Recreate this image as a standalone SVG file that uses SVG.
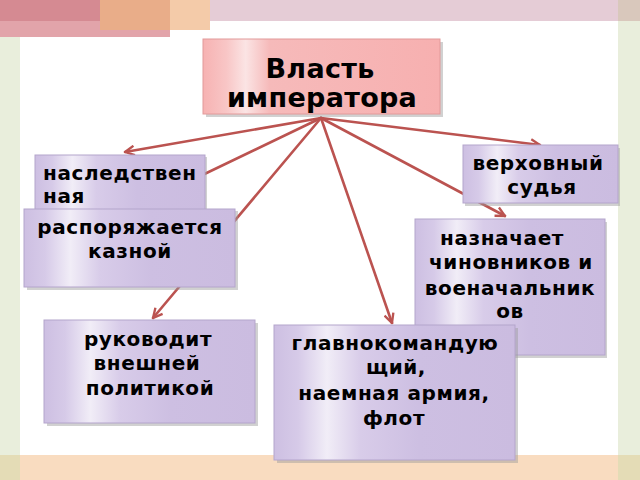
<svg xmlns="http://www.w3.org/2000/svg" width="640" height="480" viewBox="0 0 640 480">
<defs>
<style>
.t{font-family:"DejaVu Sans","Verdana",sans-serif;font-weight:bold;font-size:20px;letter-spacing:0.6px;fill:#000;}
.big{font-size:27px;letter-spacing:0.3px;}
.lav{fill:url(#gLav);stroke:#b4a5cc;stroke-width:1;}
.pink{fill:url(#gPink);stroke:#e29a9a;stroke-width:1;}
.sh{fill:#9a9a9a;opacity:0.45;}
.c{stroke:#bb5350;stroke-width:2.6;fill:none;stroke-linecap:round;}
</style>
<linearGradient id="gLav" x1="0" y1="0" x2="1" y2="0">
<stop offset="0" stop-color="#cdbfe2"/>
<stop offset="0.1" stop-color="#d6cae8"/>
<stop offset="0.22" stop-color="#f1edf7"/>
<stop offset="0.36" stop-color="#d8cce9"/>
<stop offset="0.6" stop-color="#cdbfe2"/>
<stop offset="1" stop-color="#cbbce0"/>
</linearGradient>
<linearGradient id="gPink" x1="0" y1="0" x2="1" y2="0">
<stop offset="0" stop-color="#f7b2b2"/>
<stop offset="0.1" stop-color="#f8c6c6"/>
<stop offset="0.18" stop-color="#fbe4e4"/>
<stop offset="0.28" stop-color="#f6baba"/>
<stop offset="1" stop-color="#f7b0b0"/>
</linearGradient>
<marker id="arr" viewBox="0 0 10 10" refX="9" refY="5" markerWidth="4.5" markerHeight="4.5" orient="auto" markerUnits="strokeWidth">
<path d="M1,1 L9,5 L1,9" fill="none" stroke="#bb5350" stroke-width="2"/>
</marker>
</defs>

<g id="background">
<rect x="0" y="0" width="640" height="480" fill="#ffffff"/>
<rect x="0" y="0" width="20" height="480" fill="#e9eedc"/>
<rect x="618" y="0" width="22" height="480" fill="#e9eedc"/>
<rect x="210" y="0" width="408" height="21" fill="#e5ccd6"/>
<rect x="618" y="0" width="22" height="21" fill="#d9c8bc"/>
<rect x="0" y="0" width="170" height="37" fill="#e2a4aa"/>
<rect x="0" y="0" width="100" height="21" fill="#d58a92"/>
<rect x="100" y="0" width="70" height="30" fill="#e9ad89"/>
<rect x="170" y="0" width="40" height="30" fill="#f4cba9"/>
<rect x="20" y="455" width="598" height="25" fill="#f9dcc0"/>
<rect x="0" y="455" width="20" height="25" fill="#e4dcb6"/>
<rect x="618" y="455" width="22" height="25" fill="#e4dcb6"/>
</g>

<g id="connectors">
<line class="c" x1="321" y1="118" x2="125" y2="152" marker-end="url(#arr)"/>
<line class="c" x1="321" y1="118" x2="140" y2="205"/>
<line class="c" x1="321" y1="118" x2="153" y2="318" marker-end="url(#arr)"/>
<line class="c" x1="321" y1="118" x2="392" y2="323" marker-end="url(#arr)"/>
<line class="c" x1="321" y1="118" x2="505" y2="216" marker-end="url(#arr)"/>
<line class="c" x1="321" y1="118" x2="540" y2="145" marker-end="url(#arr)"/>
</g>

<g id="node-power">
<rect class="sh" x="206" y="42" width="237" height="75"/>
<rect class="pink" x="203" y="39" width="237" height="75"/>
<text class="t big" x="320" y="78" text-anchor="middle">Власть</text>
<text class="t big" x="322" y="107" text-anchor="middle">императора</text>
</g>

<g id="node-hereditary">
<rect class="sh" x="37" y="157" width="170" height="58"/>
<rect class="lav" x="35" y="155" width="170" height="58"/>
<text class="t" x="43" y="180">наследствен</text>
<text class="t" x="43" y="203">ная</text>
</g>

<g id="node-treasury">
<rect class="sh" x="27" y="211" width="211" height="79"/>
<rect class="lav" x="24" y="209" width="211" height="78"/>
<text class="t" x="130" y="234" text-anchor="middle">распоряжается</text>
<text class="t" x="130" y="258" text-anchor="middle">казной</text>
</g>

<g id="node-judge">
<rect class="sh" x="465" y="148" width="155" height="58"/>
<rect class="lav" x="463" y="145" width="155" height="58"/>
<text class="t" x="538" y="170" text-anchor="middle">верховный</text>
<text class="t" x="542" y="194" text-anchor="middle">судья</text>
</g>

<g id="node-appoints">
<rect class="sh" x="417" y="222" width="190" height="136"/>
<rect class="lav" x="415" y="219" width="190" height="136"/>
<text class="t" x="502" y="245" text-anchor="middle">назначает</text>
<text class="t" x="511" y="269" text-anchor="middle">чиновников и</text>
<text class="t" x="510" y="295" text-anchor="middle">военачальник</text>
<text class="t" x="510" y="318" text-anchor="middle">ов</text>
</g>

<g id="node-foreign">
<rect class="sh" x="47" y="323" width="211" height="103"/>
<rect class="lav" x="44" y="320" width="211" height="103"/>
<text class="t" x="148" y="346" text-anchor="middle">руководит</text>
<text class="t" x="147" y="370" text-anchor="middle">внешней</text>
<text class="t" x="150" y="395" text-anchor="middle">политикой</text>
</g>

<g id="node-commander">
<rect class="sh" x="277" y="328" width="241" height="135"/>
<rect class="lav" x="274" y="325" width="241" height="135"/>
<text class="t" x="395" y="350" text-anchor="middle">главнокомандую</text>
<text class="t" x="396" y="374" text-anchor="middle">щий,</text>
<text class="t" x="394" y="400" text-anchor="middle">наемная армия,</text>
<text class="t" x="394" y="425" text-anchor="middle">флот</text>
</g>
</svg>
